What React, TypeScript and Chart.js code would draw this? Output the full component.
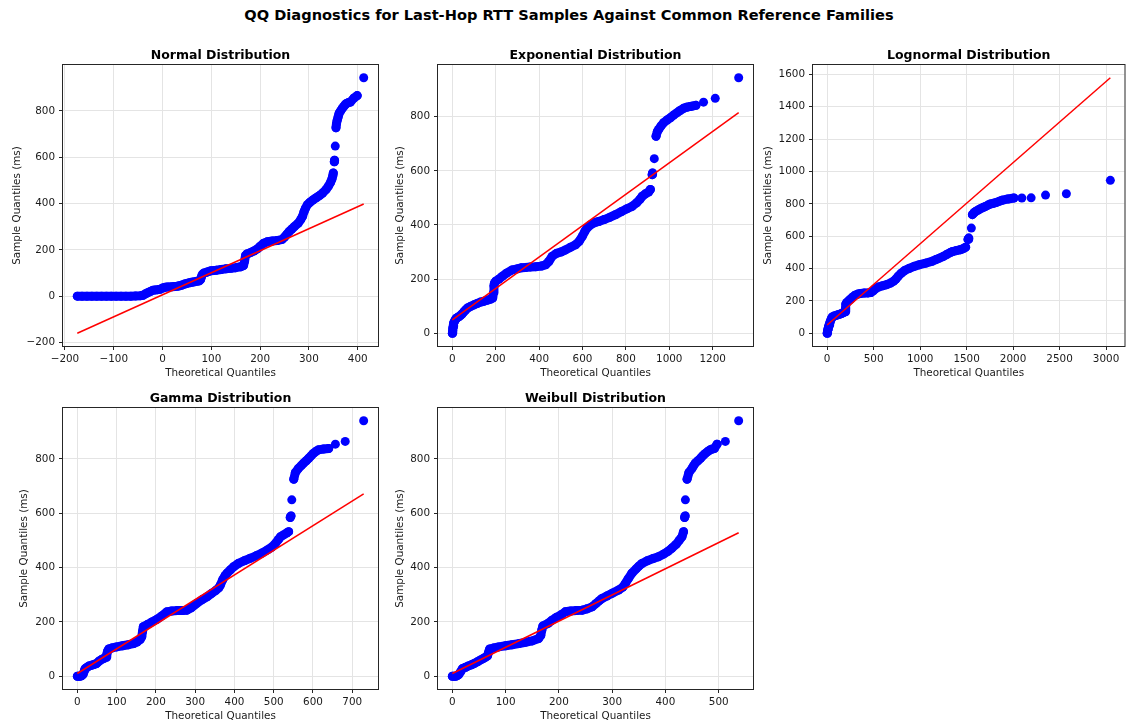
import React, { useEffect, useRef } from "react";
import { Chart, registerables } from "chart.js";

Chart.register(...registerables);

// ---------------- data ----------------

const normalTheoretical = [-174.7, -165, -155, -145, -135, -125, -115, -105, -95, -85, -75, -65, -55, -45, -40, -35, -30, -25, -20, -15, -10, -5, 0, 5, 10, 15, 20, 25, 30, 35, 40, 45, 50, 55, 60, 65, 70, 75, 78, 80, 82, 85, 90, 95, 100, 110, 120, 130, 140, 150, 160, 166, 168, 170, 173, 180, 187, 195, 200, 207, 215, 225, 235, 245, 250, 255, 260, 265, 270, 278, 283, 287, 290, 293, 297, 302, 308, 315, 322, 328, 335, 340, 344, 347, 349, 350, 352, 352.5, 354, 355.5, 356.5, 358, 360, 362, 365, 368, 371, 374, 377, 381, 385, 392, 399, 412.3];
const normalSample = [0, 0, 0, 0, 0, 0, 0, 0, 0, 0, 0, 0, 1, 2, 4, 10, 15, 20, 25, 27, 28, 30, 35, 38, 40, 40, 41, 42, 43, 45, 48, 52, 55, 58, 60, 62, 64, 66, 72, 85, 95, 100, 103, 107, 110, 112, 115, 118, 120, 123, 127, 132, 150, 175, 182, 188, 195, 205, 215, 228, 235, 238, 240, 245, 255, 268, 280, 290, 300, 315, 330, 345, 365, 380, 395, 405, 415, 425, 435, 445, 460, 475, 490, 505, 520, 532, 580, 587, 648, 727, 745, 760, 775, 790, 800, 810, 818, 826, 832, 836, 838, 855, 866, 943];
const normalFitX = [-174.7, 412.3];
const normalFitY = [-160, 398];

const expTheoretical = [0, 1, 2, 3, 4, 5, 7, 10, 14, 18, 24, 30, 38, 46, 54, 61, 70, 84, 100, 115, 130, 145, 160, 176, 186, 190, 192, 194, 200, 215, 230, 250, 276, 300, 320, 337, 360, 384, 410, 430, 445, 460, 480, 500, 522, 545, 568, 585, 599, 610, 621, 640, 660, 675, 700, 725, 752, 780, 805, 829, 850, 865, 875, 890, 905, 913, 921, 923, 931, 939, 945, 951, 962, 974, 990, 1005, 1020, 1036, 1050, 1066, 1080, 1097, 1110, 1123, 1158, 1212, 1320];
const expSample = [0, 5, 10, 18, 25, 32, 38, 44, 50, 55, 58, 61, 66, 72, 80, 86, 93, 99, 105, 110, 115, 118, 122, 126, 130, 150, 175, 185, 192, 200, 210, 222, 234, 238, 242, 243, 245, 246, 248, 253, 265, 284, 295, 300, 308, 318, 327, 340, 358, 375, 389, 402, 410, 413, 420, 428, 438, 450, 460, 469, 482, 495, 506, 515, 522, 531, 586, 592, 645, 728, 745, 753, 766, 778, 788, 796, 806, 815, 823, 831, 835, 838, 840, 842, 854, 868, 944];
const expFitX = [0, 1320];
const expFitY = [49, 815];

const lognormTheoretical = [0, 3, 6, 10, 14, 20, 27, 35, 45, 55, 75, 95, 115, 135, 155, 175, 192, 197, 202, 212, 230, 250, 272, 300, 330, 360, 400, 440, 470, 495, 520, 550, 595, 640, 680, 715, 740, 765, 795, 835, 880, 935, 995, 1060, 1130, 1170, 1207, 1250, 1290, 1330, 1349, 1390, 1430, 1455, 1473, 1490, 1515, 1523, 1551, 1562, 1580, 1597, 1625, 1650, 1680, 1704, 1730, 1757, 1787, 1817, 1850, 1881, 1945, 2009, 2094, 2194, 2349, 2573, 3046];
const lognormSample = [0, 8, 18, 28, 38, 50, 62, 75, 90, 100, 106, 110, 114, 118, 122, 127, 133, 155, 180, 190, 200, 210, 222, 235, 242, 246, 248, 249, 252, 262, 275, 285, 293, 300, 310, 322, 335, 353, 370, 388, 400, 413, 424, 433, 445, 455, 464, 475, 488, 500, 505, 511, 516, 521, 526, 532, 580, 588, 650, 733, 745, 753, 762, 770, 778, 784, 792, 799, 803, 808, 815, 822, 830, 836, 836, 837, 854, 862, 945];
const lognormFitX = [0, 3046];
const lognormFitY = [51, 1579];

const gammaTheoretical = [0, 3, 6, 9, 12, 15, 18, 20, 25, 30, 36, 42, 49, 55, 62, 68, 73, 75, 77, 80, 88, 100, 115, 130, 143, 152, 160, 164, 166, 168, 178, 190, 202, 215, 228, 240, 255, 268, 279, 290, 297, 304, 318, 330, 342, 352, 360, 364, 370, 376, 381, 390, 398, 410, 425, 440, 455, 470, 483, 495, 505, 512, 517, 525, 533, 538, 542, 544, 546, 551, 555, 563, 570, 576, 583, 589, 595, 601, 608, 614, 627, 640, 657, 682, 729];
const gammaSample = [0, 0, 0, 1, 3, 8, 20, 28, 33, 38, 40, 43, 47, 55, 62, 66, 70, 80, 92, 100, 104, 108, 112, 116, 120, 126, 135, 145, 165, 182, 190, 200, 209, 222, 237, 240, 242, 242, 243, 252, 260, 268, 282, 292, 305, 315, 325, 335, 355, 370, 379, 392, 403, 415, 425, 434, 443, 453, 464, 475, 490, 503, 513, 520, 527, 532, 584, 590, 649, 725, 749, 765, 775, 784, 793, 802, 811, 820, 828, 833, 836, 838, 854, 864, 940];
const gammaFitX = [0, 729];
const gammaFitY = [10, 671];

const weibullTheoretical = [0, 3, 6, 9, 12, 15, 19, 25, 30, 36, 41, 47, 53, 58, 62, 66, 68, 70, 78, 87, 100, 112, 125, 137, 150, 162, 166, 168, 170, 180, 187, 195, 204, 212, 222, 233, 244, 253, 262, 270, 276, 281, 290, 300, 312, 320, 325, 330, 337, 345, 350, 356, 366, 377, 387, 397, 405, 412, 420, 426, 431, 434, 436, 437, 437.5, 440.6, 444, 450, 453, 456, 461, 466, 470, 475, 480, 484, 488, 492, 497, 512.5, 537.5];
const weibullSample = [0, 0, 0, 2, 6, 15, 28, 33, 38, 42, 47, 53, 60, 65, 70, 75, 88, 100, 104, 108, 112, 116, 120, 125, 130, 139, 150, 170, 185, 195, 206, 216, 226, 237, 240, 242, 243, 248, 255, 268, 278, 286, 295, 305, 317, 328, 342, 358, 379, 395, 405, 415, 425, 433, 440, 450, 460, 471, 485, 500, 513, 532, 584, 590, 649, 725, 749, 765, 775, 784, 793, 802, 811, 820, 828, 833, 836, 838, 854, 864, 940];
const weibullFitX = [0, 537.5];
const weibullFitY = [10, 528];

const normalXTicks = [-200, -100, 0, 100, 200, 300, 400];
const normalYTicks = [-200, 0, 200, 400, 600, 800];
const expXTicks = [0, 200, 400, 600, 800, 1000, 1200];
const lognormXTicks = [0, 500, 1000, 1500, 2000, 2500, 3000];
const lognormYTicks = [0, 200, 400, 600, 800, 1000, 1200, 1400, 1600];
const gammaXTicks = [0, 100, 200, 300, 400, 500, 600, 700];
const weibullXTicks = [0, 100, 200, 300, 400, 500];
const msYTicks = [0, 200, 400, 600, 800];

const SUPTITLE = "QQ Diagnostics for Last-Hop RTT Samples Against Common Reference Families";
const X_LABEL = "Theoretical Quantiles";
const Y_LABEL = "Sample Quantiles (ms)";

// ---------------- styling / layout ----------------

const FONT = "'DejaVu Sans', 'Liberation Sans', sans-serif";
const BLUE = "#0000ff";
const RED = "#ff0000";
const TEXT = "#1a1a1a";
const GRID = "#e4e4e4";
const TICK_SIZE = 10.4;
const JOIN_PX = 7.5;
const PAGE_W = 1129;
const PAGE_H = 724;
const X_AXIS_H = 36;
const TITLE_H = 32;

const PANELS = [
  { title: "Normal Distribution", theo: normalTheoretical, sample: normalSample, fitX: normalFitX, fitY: normalFitY, xTicks: normalXTicks, yTicks: normalYTicks, xRange: [-204, 441.6], yRange: [-215.2, 998.2], box: { l: 63, t: 65, r: 378, b: 346 }, canvasLeft: 0, yTitleX: 17 },
  { title: "Exponential Distribution", theo: expTheoretical, sample: expSample, fitX: expFitX, fitY: expFitY, xTicks: expXTicks, yTicks: msYTicks, xRange: [-66, 1386], yRange: [-47.2, 991.2], box: { l: 438, t: 65, r: 753, b: 346 }, canvasLeft: 375, yTitleX: 400 },
  { title: "Lognormal Distribution", theo: lognormTheoretical, sample: lognormSample, fitX: lognormFitX, fitY: lognormFitY, xTicks: lognormXTicks, yTicks: lognormYTicks, xRange: [-152.3, 3198.3], yRange: [-79, 1658], box: { l: 813, t: 65, r: 1128, b: 346 }, canvasLeft: 750, yTitleX: 768 },
  { title: "Gamma Distribution", theo: gammaTheoretical, sample: gammaSample, fitX: gammaFitX, fitY: gammaFitY, xTicks: gammaXTicks, yTicks: msYTicks, xRange: [-36.5, 765.5], yRange: [-47, 987], box: { l: 63, t: 408, r: 378, b: 689 }, canvasLeft: 0, yTitleX: 24 },
  { title: "Weibull Distribution", theo: weibullTheoretical, sample: weibullSample, fitX: weibullFitX, fitY: weibullFitY, xTicks: weibullXTicks, yTicks: msYTicks, xRange: [-26.9, 564.4], yRange: [-47, 987], box: { l: 438, t: 408, r: 753, b: 689 }, canvasLeft: 375, yTitleX: 400 },
];

const framePlugin = {
  id: "axesFrame",
  afterDraw(chart: any) {
    const { ctx, chartArea: a } = chart;
    ctx.save();
    ctx.strokeStyle = "#262626";
    ctx.lineWidth = 1;
    ctx.strokeRect(a.left - 0.5, a.top - 0.5, a.right - a.left + 1, a.bottom - a.top + 1);
    ctx.restore();
  },
};

const fmt = (v: any) => String(v).replace("-", "\u2212");

function QQPanel({ spec }: { spec: any }) {
  const ref = useRef<HTMLCanvasElement | null>(null);
  const top = spec.box.t - TITLE_H;
  const right = Math.min(PAGE_W, spec.box.r + 8);
  const width = right - spec.canvasLeft;
  const height = spec.box.b + X_AXIS_H - top;
  const yAxisW = spec.box.l - spec.canvasLeft;
  const padRight = right - spec.box.r;
  const lineH = TICK_SIZE * 1.2;

  useEffect(() => {
    const points = spec.theo.map((x: number, i: number) => ({ x, y: spec.sample[i] }));
    const fit = spec.fitX.map((x: number, i: number) => ({ x, y: spec.fitY[i] }));
    const tickFont = { family: FONT, size: TICK_SIZE };
    const chart = new Chart(ref.current as HTMLCanvasElement, {
      type: "scatter",
      data: {
        datasets: [
          { label: "fit", data: fit, showLine: true, borderColor: RED, borderWidth: 1.5, pointRadius: 0, order: 0 } as any,
          {
            label: "samples",
            data: points,
            showLine: true,
            borderColor: BLUE,
            borderWidth: 9,
            borderCapStyle: "round",
            borderJoinStyle: "round",
            segment: {
              borderColor: (c: any) => (Math.hypot(c.p1.x - c.p0.x, c.p1.y - c.p0.y) < JOIN_PX ? BLUE : "rgba(0,0,0,0)"),
            },
            pointRadius: 4.5,
            pointBackgroundColor: BLUE,
            pointBorderColor: BLUE,
            pointBorderWidth: 0,
            order: 1,
          } as any,
        ],
      },
      options: {
        animation: false,
        responsive: false,
        maintainAspectRatio: false,
        events: [],
        layout: { padding: { left: 0, top: 0, right: padRight, bottom: 0 } },
        plugins: {
          legend: { display: false },
          tooltip: { enabled: false },
          title: {
            display: true,
            text: spec.title,
            fullSize: false,
            color: "#000",
            font: { family: FONT, size: 12.5, weight: "bold" },
            padding: { top: 15, bottom: 2 },
          },
        },
        scales: {
          x: {
            type: "linear",
            position: "bottom",
            min: spec.xRange[0],
            max: spec.xRange[1],
            afterBuildTicks: (s: any) => {
              s.ticks = spec.xTicks.map((v: number) => ({ value: v }));
            },
            afterFit: (s: any) => {
              s.height = X_AXIS_H;
            },
            ticks: { font: tickFont, color: TEXT, padding: 3, maxRotation: 0, minRotation: 0, autoSkip: false, callback: fmt },
            grid: { color: GRID, lineWidth: 1, drawTicks: true, tickLength: 4, tickColor: "#262626", tickWidth: 1 },
            border: { display: false },
            title: { display: true, text: X_LABEL, color: TEXT, font: tickFont, padding: { top: 0, bottom: X_AXIS_H - 27 - lineH / 2 } },
          },
          y: {
            type: "linear",
            position: "left",
            min: spec.yRange[0],
            max: spec.yRange[1],
            afterBuildTicks: (s: any) => {
              s.ticks = spec.yTicks.map((v: number) => ({ value: v }));
            },
            afterFit: (s: any) => {
              s.width = yAxisW;
            },
            ticks: { font: tickFont, color: TEXT, padding: 4, autoSkip: false, callback: fmt },
            grid: { color: GRID, lineWidth: 1, drawTicks: true, tickLength: 4, tickColor: "#262626", tickWidth: 1 },
            border: { display: false },
            title: {
              display: true,
              text: Y_LABEL,
              color: TEXT,
              font: tickFont,
              padding: { top: spec.yTitleX - spec.canvasLeft - lineH / 2, bottom: 0 },
            },
          },
        },
      } as any,
      plugins: [framePlugin],
    });
    return () => chart.destroy();
  }, [spec]);

  return (
    <canvas
      ref={ref}
      width={width}
      height={height}
      style={{ position: "absolute", left: spec.canvasLeft, top, width, height, display: "block" }}
    />
  );
}

export default function App() {
  return (
    <div style={{ position: "relative", width: PAGE_W, height: PAGE_H, overflow: "hidden", background: "#fff", fontFamily: FONT }}>
      <style>{"html,body{margin:0;padding:0;background:#fff;overflow:hidden;}"}</style>
      <div
        style={{
          position: "absolute",
          top: 6,
          left: 569,
          transform: "translateX(-50%)",
          whiteSpace: "nowrap",
          fontWeight: "bold",
          fontSize: "14.6px",
          lineHeight: "17px",
          color: "#000",
        }}
      >
        {SUPTITLE}
      </div>
      {PANELS.map((p) => (
        <QQPanel key={p.title} spec={p} />
      ))}
    </div>
  );
}
